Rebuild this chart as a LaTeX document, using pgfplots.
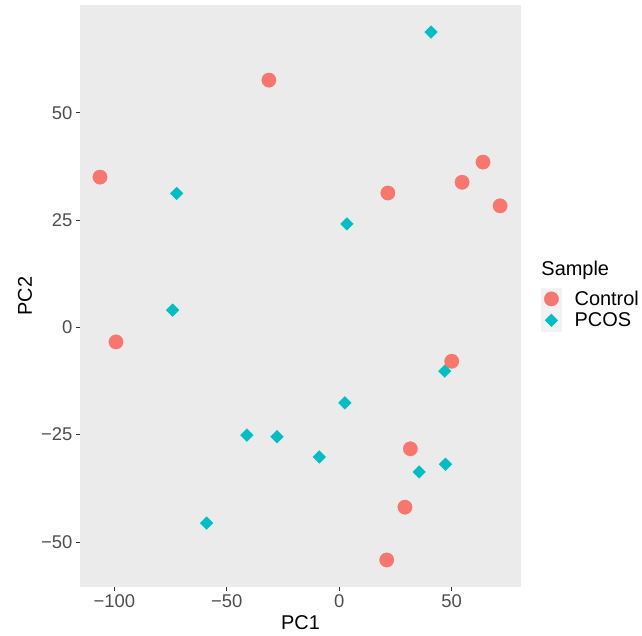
\documentclass[border=0pt]{standalone}
\usepackage{fontspec}
\setmainfont{Liberation Sans}
\usepackage{pgfplots}
\pgfplotsset{compat=1.18}
\definecolor{ctrl}{HTML}{F8766D}
\definecolor{pcos}{HTML}{00BFC4}
\definecolor{panel}{HTML}{EBEBEB}
\definecolor{keybg}{HTML}{F2F2F2}
\definecolor{tickgrey}{HTML}{4D4D4D}
\definecolor{tickline}{HTML}{333333}
\pgfplotsset{keyimg/.style={legend image code/.code={\fill[keybg] (-10bp,-10.5bp) rectangle (10bp,10.5bp); \draw[##1] plot coordinates {(0bp,0bp)};}}}
\begin{document}
\begin{tikzpicture}
\useasboundingbox (-80bp,-49bp) rectangle (562bp,587bp);
\begin{axis}[
  at={(0,0)}, anchor=south west,
  scale only axis, width=441bp, height=582bp,
  xmin=-115.3, xmax=80.8, ymin=-60.5, ymax=75.1,
  axis background/.style={fill=panel},
  axis lines*=left, axis line style={draw=none},
  xtick={-100,-50,0,50}, xticklabels={−100,−50,0,50},
  ytick={-50,-25,0,25,50}, yticklabels={−50,−25,0,25,50},
  tick align=outside, major tick length=4bp,
  tick style={draw=tickline, line width=0.8bp},
  ticklabel style={font=\fontsize{18.5}{18.5}\selectfont, text=tickgrey},
  xlabel={PC1}, ylabel={PC2},
  label style={font=\fontsize{20}{20}\selectfont},
  xlabel style={at={([yshift=-42bp]axis description cs:0.5,0)}, anchor=base},
  ylabel style={at={([xshift=-48bp]axis description cs:0,0.5)}, anchor=base},
  clip=false,
  legend style={at={(axis description cs:1.0454,0.5137)}, anchor=north west,
    draw=none, fill=none, inner sep=0pt, row sep=0pt,
    nodes={inner sep=0pt, font=\fontsize{20}{20}\selectfont},
    /tikz/every odd column/.append style={column sep=13bp}},
  legend cell align=left,
]
\addplot[color=ctrl, only marks, mark=*, mark size=7.2bp, mark options={fill=ctrl, draw=ctrl, line width=0.3bp}, keyimg] coordinates {
(-106.4,35.0) (-99.3,-3.4) (-31.3,57.6) (21.6,31.3) (54.6,33.8) (63.9,38.5)
(71.5,28.3) (50.0,-7.9) (31.6,-28.3) (29.2,-41.9) (21.1,-54.2)
};
\addlegendentry{Control}
\addplot[color=pcos, only marks, mark=square*, mark size=4.5bp, mark options={fill=pcos, draw=pcos, line width=0.3bp, rotate=45}, keyimg] coordinates {
(40.8,68.8) (-72.3,31.2) (3.4,24.1) (-74.1,4.0) (46.9,-10.2) (2.5,-17.6)
(-41.1,-25.1) (-27.7,-25.5) (-8.9,-30.2) (35.5,-33.7) (47.2,-31.9) (-59.0,-45.6)
};
\addlegendentry{PCOS}
\node[anchor=base west, inner sep=0pt, font=\fontsize{20}{20}\selectfont] at (axis description cs:1.046,0.5349) {Sample};
\end{axis}
\end{tikzpicture}
\end{document}
